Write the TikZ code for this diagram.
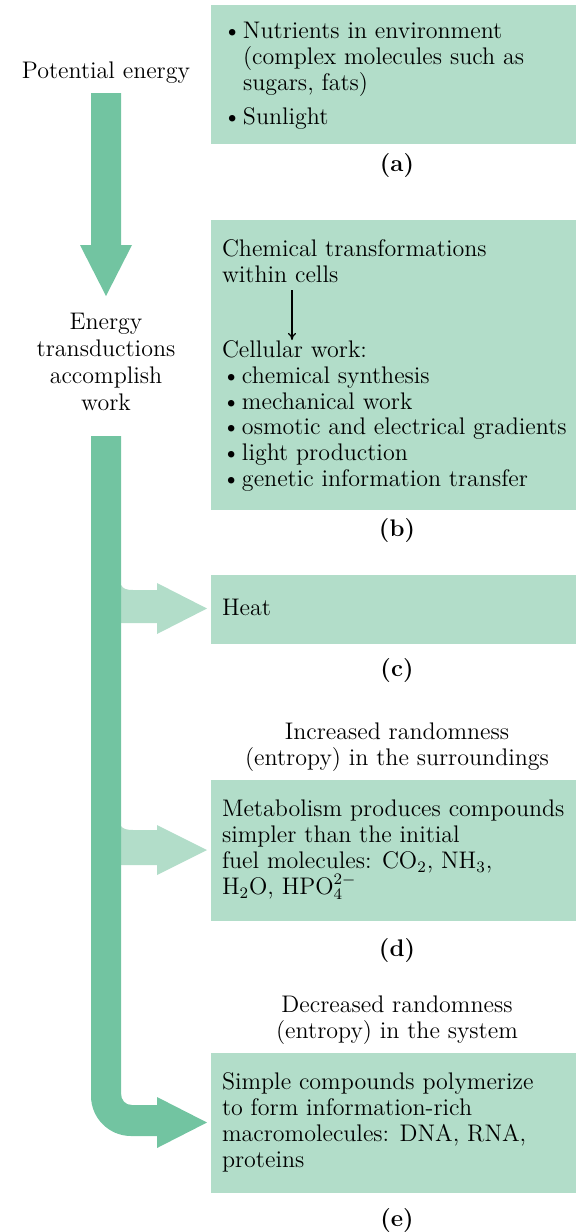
\documentclass[tikz,border=0pt]{standalone}
\usetikzlibrary{arrows.meta}
\definecolor{boxgreen}{HTML}{B2DDC9}
\definecolor{arrowgreen}{HTML}{72C4A1}
\newcommand{\bul}{\makebox[10pt][l]{\textbullet}}
\newcommand{\ind}{\hspace*{10pt}}
\begin{document}
\begin{tikzpicture}[x=0.5pt,y=-0.5pt,
  every node/.style={inner sep=0pt,outer sep=0pt},
  greenbox/.style={fill=boxgreen,anchor=north west,minimum width=182.75pt},
  txt/.style={anchor=base west,align=left,font=\fontsize{12}{12.9}\selectfont},
  ctxt/.style={anchor=base,align=center,font=\fontsize{12}{12.9}\selectfont},
  lbl/.style={anchor=base,font=\fontsize{12}{12.9}\selectfont\bfseries}]
\useasboundingbox (0,0) rectangle (576,1232);
% boxes
\node[greenbox,minimum height=69.5pt] (boxa) at (210.5,5) {};
\node[greenbox,minimum height=145pt] (boxb) at (210.5,220) {};
\node[greenbox,minimum height=34.5pt] (boxc) at (210.5,575) {};
\node[greenbox,minimum height=70.5pt] (boxd) at (210.5,780) {};
\node[greenbox,minimum height=70pt] (boxe) at (210.5,1053) {};
% light side arrows
\fill[boxgreen] (121,585) .. controls (123,589) and (127,590) .. (133,590) -- (157,590) -- (157,583) -- (207,608.5) -- (157,634) -- (157,623) -- (121,623) -- cycle;
\fill[boxgreen] (121,826) .. controls (123,829) and (127,830) .. (133,830) -- (157,830) -- (157,825) -- (207,850) -- (157,875) -- (157,865) -- (121,865) -- cycle;
% main arrows
\fill[arrowgreen] (91,93) -- (121,93) -- (121,245) -- (132,245) -- (106,296) -- (80,245) -- (91,245) -- cycle;
\fill[arrowgreen] (91,436) -- (121,436) -- (121,1093) .. controls (121,1100) and (125,1105) .. (132,1105) -- (157,1105) -- (157,1097) -- (207,1122.5) -- (157,1148) -- (157,1136) -- (131,1136) .. controls (109,1136) and (91,1118) .. (91,1096) -- cycle;
% left texts (base = last line)
\node[ctxt] (pot) at (106,78.5) {Potential energy};
\node[ctxt,font=\fontsize{12}{13.5}\selectfont] (trans) at (106,410.5) {Energy\\transductions\\accomplish\\work};
% box a
\node[txt] (ta1) at (223,90.5) {\bul Nutrients in environment\\\ind(complex molecules such as\\\ind sugars, fats)};
\node[txt] (ta2) at (223,124.5) {\bul Sunlight};
\node[lbl] (la) at (397,171.5) {(a)};
% box b
\node[txt] (tb1) at (222,282.5) {Chemical transformations\\within cells};
\node[txt] (tb2) at (222,486.5) {Cellular work:\\\bul chemical synthesis\\\bul mechanical work\\\bul osmotic and electrical gradients\\\bul light production\\\bul genetic information transfer};
\coordinate (ch1) at (292,290);
\coordinate (ch2) at (292,340);
\draw[line width=0.6pt,-{To[length=3.5pt,width=4pt]}] (ch1) -- (ch2);
\node[lbl] (lb) at (397,536.5) {(b)};
% box c
\node[txt] (tc) at (222,615) {Heat};
\node[lbl] (lc) at (397,676.5) {(c)};
\node[ctxt] (inc) at (397,765.5) {Increased randomness\\(entropy) in the surroundings};
% box d
\node[txt,font=\fontsize{12}{13}\selectfont] (td) at (222,894.5) {Metabolism produces compounds\\simpler than the initial\\fuel molecules: CO$_2$, NH$_3$,\\H$_2$O, HPO$_4^{2-}$};
\node[lbl] (ld) at (397,956.5) {(d)};
\node[ctxt] (dec) at (397,1038.5) {Decreased randomness\\(entropy) in the system};
% box e
\node[txt,font=\fontsize{12}{13}\selectfont] (te) at (222,1167.5) {Simple compounds polymerize\\to form information-rich\\macromolecules: DNA, RNA,\\proteins};
\node[lbl] (le) at (397,1226.5) {(e)};
\end{tikzpicture}
\end{document}
